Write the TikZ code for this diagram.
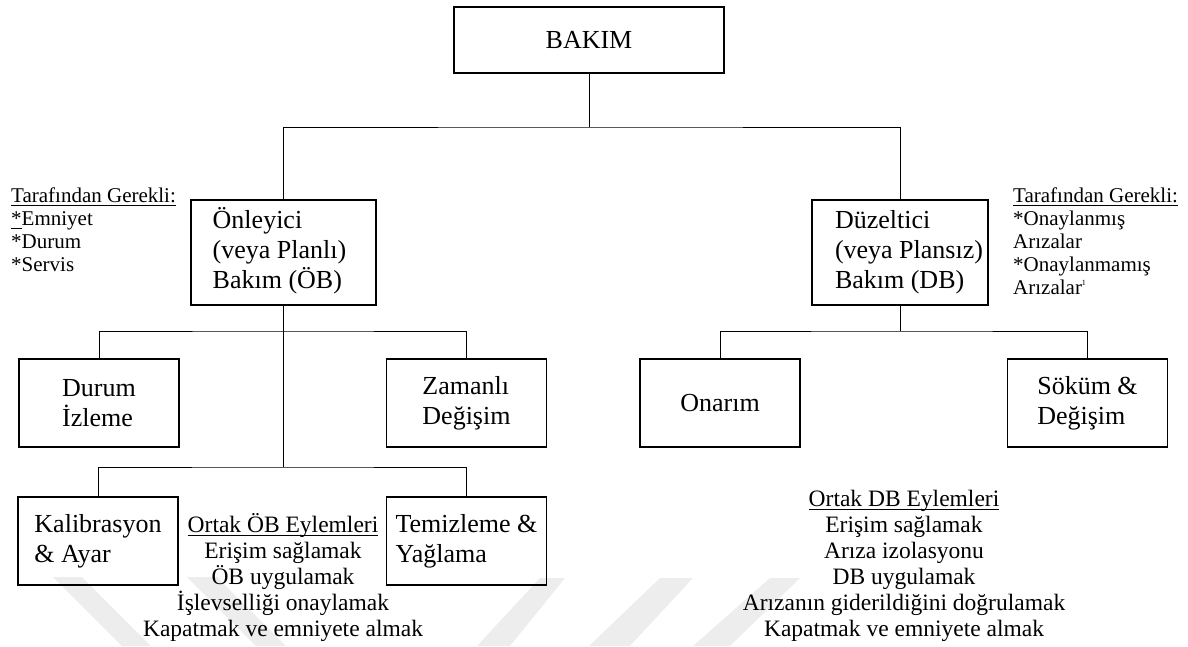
\documentclass[tikz,border=0pt]{standalone}
\usepackage{fontspec}
\setmainfont{Liberation Serif}
% underline drawn as a rule a little below the baseline
\newcommand{\undl}[1]{\setbox0\hbox{#1}\rlap{\rule[-3pt]{\wd0}{1.1pt}}\box0}
\begin{document}
\begin{tikzpicture}[x=1pt,y=-1pt,
  box/.style={draw, line width=1.8pt, inner sep=0pt, align=left,
              font=\fontsize{26}{30}\selectfont},
  smallbox/.style={box, minimum width=160pt, minimum height=88pt},
  link/.style={line width=1pt},
  note/.style={inner sep=0pt, align=left, font=\fontsize{21}{23}\selectfont},
  actions/.style={inner sep=0pt, align=center, font=\fontsize{23.5}{26}\selectfont},
  wmband/.style={fill=black!7, draw=none}
]
\useasboundingbox (0,0) rectangle (1188,646);

% faint background chevrons
\fill[wmband] (53,577) -- (82,577) -- (151,646) -- (122,646) -- cycle;
\fill[wmband] (187,577) -- (217,577) -- (286,646) -- (256,646) -- cycle;
\fill[wmband] (540,578) -- (565,578) -- (510,646) -- (477,646) -- cycle;
\fill[wmband] (660,578) -- (693,578) -- (630,646) -- (589,646) -- cycle;
\fill[wmband] (770,578) -- (800,578) -- (730,646) -- (693,646) -- cycle;

% boxes
\node[box, minimum width=270pt, minimum height=66pt, align=center] (bakim) at (589,40) {BAKIM};
\node[box, minimum width=185pt, minimum height=105pt] (pm) at (283.5,252.5)
  {\begin{tabular}{@{}l@{\hspace{8pt}}}Önleyici\\(veya Planlı)\\Bakım (ÖB)\end{tabular}};
\node[box, minimum width=176pt, minimum height=105pt] (cm) at (900,252.5)
  {\begin{tabular}{@{\hspace{18pt}}l@{}}Düzeltici\\(veya Plansız)\\Bakım (DB)\end{tabular}};

\node[smallbox] (durum)  at (99,403)    {Durum\\İzleme};
\node[smallbox] (zaman)  at (466.5,403) {Zamanlı\\Değişim};
\node[smallbox] (onarim) at (720,403)   {Onarım};
\node[smallbox] (sokum)  at (1087.5,403){Söküm \&\\Değişim};
\node[smallbox] (kalib)  at (98,541)    {Kalibrasyon\\\& Ayar};
\node[smallbox] (temiz)  at (466.5,541) {Temizleme \&\\Yağlama};

% junction points
\coordinate (j1) at (589,127);
\coordinate (j2) at (283.5,331);
\coordinate (j3) at (283.5,467);
\coordinate (j4) at (900,331);

% connectors
\draw[link] (bakim.south) -- (j1);
\draw[link] (pm.north) |- (j1) -| (cm.north);
\draw[link] (pm.south) -- (j3);
\draw[link] (durum.north) |- (j2) -| (zaman.north);
\draw[link] (kalib.north) |- (j3) -| (temiz.north);
\draw[link] (cm.south) -- (j4);
\draw[link] (onarim.north) |- (j4) -| (sokum.north);

% side notes
\node[note, anchor=north west] (pmnote) at (11,188)
  {\undl{Tarafından Gerekli:}\\\undl{*}Emniyet\\*Durum\\*Servis};
\node[note, anchor=north west] (cmnote) at (1013,188)
  {\undl{Tarafından Gerekli:}\\*Onaylanmış\\Arızalar\\*Onaylanmamış\\Arızalar{\fontsize{8}{8}\selectfont\raisebox{9pt}{1}}};

% common action lists
\node[actions, anchor=south] (pmlist) at (283,642)
  {\undl{Ortak ÖB Eylemleri}\\Erişim sağlamak\\ÖB uygulamak\\İşlevselliği onaylamak\\Kapatmak ve emniyete almak};
\node[actions, anchor=south] (cmlist) at (904,642)
  {\undl{Ortak DB Eylemleri}\\Erişim sağlamak\\Arıza izolasyonu\\DB uygulamak\\Arızanın giderildiğini doğrulamak\\Kapatmak ve emniyete almak};
\end{tikzpicture}
\end{document}
